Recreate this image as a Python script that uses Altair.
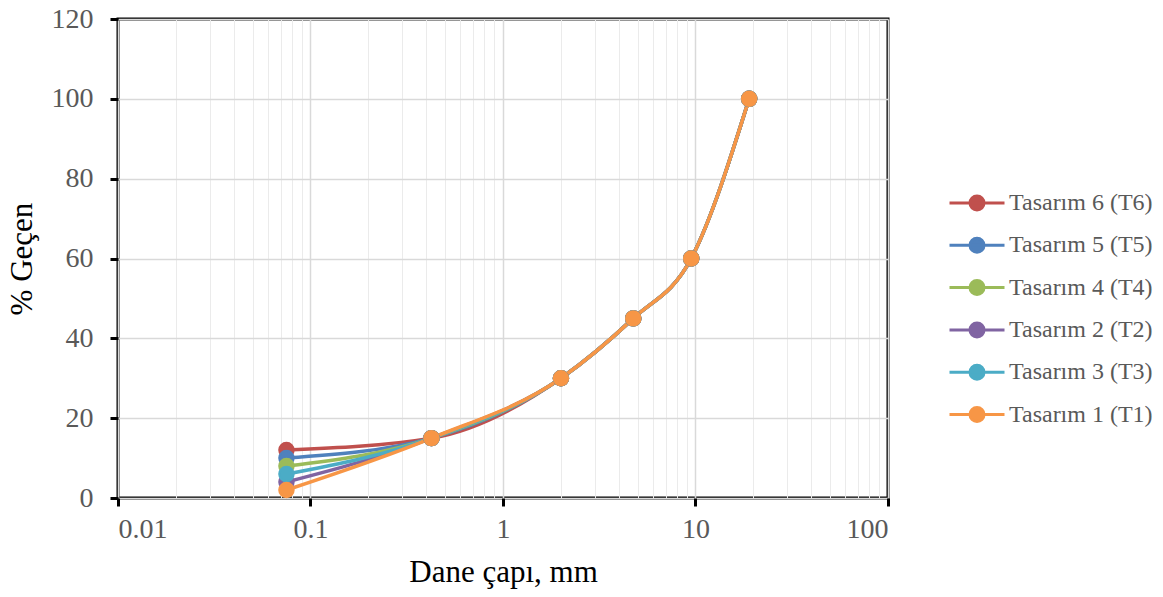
import altair as alt
import pandas as pd

sieve = [0.075, 0.425, 2.0, 4.75, 9.5, 19.0]
series_names = ["Tasarım 6 (T6)", "Tasarım 5 (T5)", "Tasarım 4 (T4)",
                "Tasarım 2 (T2)", "Tasarım 3 (T3)", "Tasarım 1 (T1)"]
colors = ["#C0504D", "#4F81BD", "#9BBB59", "#8064A2", "#4BACC6", "#F79646"]
values = {
    "Tasarım 6 (T6)": [12, 15, 30, 45, 60, 100],
    "Tasarım 5 (T5)": [10, 15, 30, 45, 60, 100],
    "Tasarım 4 (T4)": [8, 15, 30, 45, 60, 100],
    "Tasarım 2 (T2)": [4, 15, 30, 45, 60, 100],
    "Tasarım 3 (T3)": [6, 15, 30, 45, 60, 100],
    "Tasarım 1 (T1)": [2, 15, 30, 45, 60, 100],
}
x_major = [0.01, 0.1, 1, 10, 100]
x_minor = [m * d for d in [0.01, 0.1, 1, 10] for m in range(2, 10)]
y_ticks = [0, 20, 40, 60, 80, 100, 120]

rows = []
for s in series_names:
    for x, v in zip(sieve, values[s]):
        rows.append({"seri": s, "d": x, "p": v})
df = pd.DataFrame(rows)

FONT = "Liberation Serif"
xscale = alt.Scale(type="log", domain=[0.01, 100], nice=False)
yscale = alt.Scale(domain=[0, 120], nice=False)
cscale = alt.Scale(domain=series_names, range=colors)

legend_path = ("M-2.75,0L2.75,0M-0.7,0A0.7,0.7,0,1,1,0.7,0"
               "A0.7,0.7,0,1,1,-0.7,0Z")
leg = alt.Legend(title=None, orient="none", legendX=847, legendY=172,
                 symbolType=legend_path, symbolSize=400,
                 symbolStrokeWidth=3, labelOffset=20,
                 labelFont=FONT, labelFontSize=24,
                 labelColor="#595959", rowPadding=16.3,
                 padding=0, labelLimit=300)

yaxis = alt.Axis(values=y_ticks, title="% Geçen", grid=True,
                 gridColor="#D9D9D9", gridWidth=1.5, domain=False,
                 ticks=True, tickColor="black", tickWidth=3, tickSize=8,
                 labelFont=FONT, labelFontSize=28, labelColor="#595959",
                 labelPadding=17, titleFont=FONT, titleFontSize=31,
                 titleFontWeight="normal", titleColor="black",
                 titlePadding=13)

# minor grid layer
minor = alt.Chart(pd.DataFrame({"d": [1], "p": [0]})).mark_point(opacity=0).encode(
    x=alt.X("d:Q", scale=xscale, axis=alt.Axis(values=x_minor, labels=False, ticks=False,
                                               domain=False, grid=True, gridColor="#EBEBEB",
                                               gridWidth=1, title=None, orient="bottom")),
    y=alt.Y("p:Q", scale=yscale, axis=yaxis),
)

base = alt.Chart(df)
lines = base.mark_line(interpolate="monotone", strokeWidth=3.5).encode(
    x=alt.X("d:Q", scale=xscale,
            axis=alt.Axis(values=x_major, format="~g", title="Dane çapı, mm",
                          orient="bottom",
                          grid=True, gridColor="#D9D9D9", gridWidth=1.5,
                          domain=False, ticks=True, tickColor="black", tickWidth=3,
                          tickSize=8, labelFont=FONT, labelFontSize=28,
                          labelColor="#595959", labelPadding=9,
                          titleFont=FONT, titleFontSize=31, titleFontWeight="normal",
                          titleColor="black", titlePadding=14)),
    y=alt.Y("p:Q", scale=yscale, axis=yaxis),
    color=alt.Color("seri:N", scale=cscale, legend=leg),
    detail="seri:N",
)
points = base.mark_point(filled=True, size=210, opacity=1).encode(
    x=alt.X("d:Q", scale=xscale, axis=None),
    y=alt.Y("p:Q", scale=yscale, axis=yaxis),
    color=alt.Color("seri:N", scale=cscale, legend=leg),
    stroke=alt.Stroke("seri:N", scale=cscale, legend=leg),
)

chart = alt.layer(minor, lines, points).resolve_axis(x="independent").properties(
    width=770, height=479,
    autosize=alt.AutoSizeParams(type="none"),
    padding={"left": 110, "top": 11, "right": 267, "bottom": 91},
    background="white",
).configure_view(stroke="black", strokeWidth=3)

chart.save("out.html", embed_options={"renderer": "svg", "actions": False})
